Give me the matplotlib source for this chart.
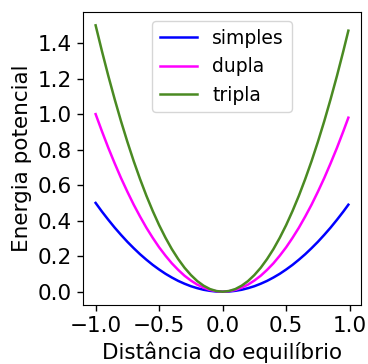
import matplotlib
matplotlib.use("Agg")
import matplotlib.pyplot as plt

x = [-1.00, -0.95, -0.90, -0.85, -0.80, -0.75, -0.70, -0.65, -0.60, -0.55, -0.50,
     -0.45, -0.40, -0.35, -0.30, -0.25, -0.20, -0.15, -0.10, -0.05, 0.00,
     0.05, 0.10, 0.15, 0.20, 0.25, 0.30, 0.35, 0.40, 0.45, 0.50,
     0.55, 0.60, 0.65, 0.70, 0.75, 0.80, 0.85, 0.90, 0.95, 0.99]
simples = [0.500, 0.451, 0.405, 0.361, 0.320, 0.281, 0.245, 0.211, 0.180, 0.151, 0.125,
           0.101, 0.080, 0.061, 0.045, 0.031, 0.020, 0.011, 0.005, 0.001, 0.000,
           0.001, 0.005, 0.011, 0.020, 0.031, 0.045, 0.061, 0.080, 0.101, 0.125,
           0.151, 0.180, 0.211, 0.245, 0.281, 0.320, 0.361, 0.405, 0.451, 0.490]
dupla = [1.000, 0.903, 0.810, 0.723, 0.640, 0.563, 0.490, 0.423, 0.360, 0.303, 0.250,
         0.203, 0.160, 0.123, 0.090, 0.063, 0.040, 0.023, 0.010, 0.003, 0.000,
         0.003, 0.010, 0.023, 0.040, 0.063, 0.090, 0.123, 0.160, 0.203, 0.250,
         0.303, 0.360, 0.423, 0.490, 0.563, 0.640, 0.723, 0.810, 0.903, 0.980]
tripla = [1.500, 1.354, 1.215, 1.084, 0.960, 0.844, 0.735, 0.634, 0.540, 0.454, 0.375,
          0.304, 0.240, 0.184, 0.135, 0.094, 0.060, 0.034, 0.015, 0.004, 0.000,
          0.004, 0.015, 0.034, 0.060, 0.094, 0.135, 0.184, 0.240, 0.304, 0.375,
          0.454, 0.540, 0.634, 0.735, 0.844, 0.960, 1.084, 1.215, 1.354, 1.470]

fig = plt.figure(figsize=(3.68, 3.64), dpi=100)
ax = fig.add_axes([0.2255, 0.162, 0.7555, 0.805])
ax.plot(x, simples, color="#0000ff", lw=1.8, label="simples")
ax.plot(x, dupla, color="#ff00ff", lw=1.8, label="dupla")
ax.plot(x, tripla, color="#4a8a22", lw=1.8, label="tripla")
ax.set_xticks([-1.0, -0.5, 0.0, 0.5, 1.0])
ax.set_yticks([0.0, 0.2, 0.4, 0.6, 0.8, 1.0, 1.2, 1.4])
ax.tick_params(labelsize=15.5, width=1.0, length=4.5)
ax.set_xlabel("Distância do equilíbrio", fontsize=15.5)
ax.set_ylabel("Energia potencial", fontsize=15.5)
ax.legend(loc="upper center", fontsize=13.5)
fig.savefig("out.png", dpi=100)
